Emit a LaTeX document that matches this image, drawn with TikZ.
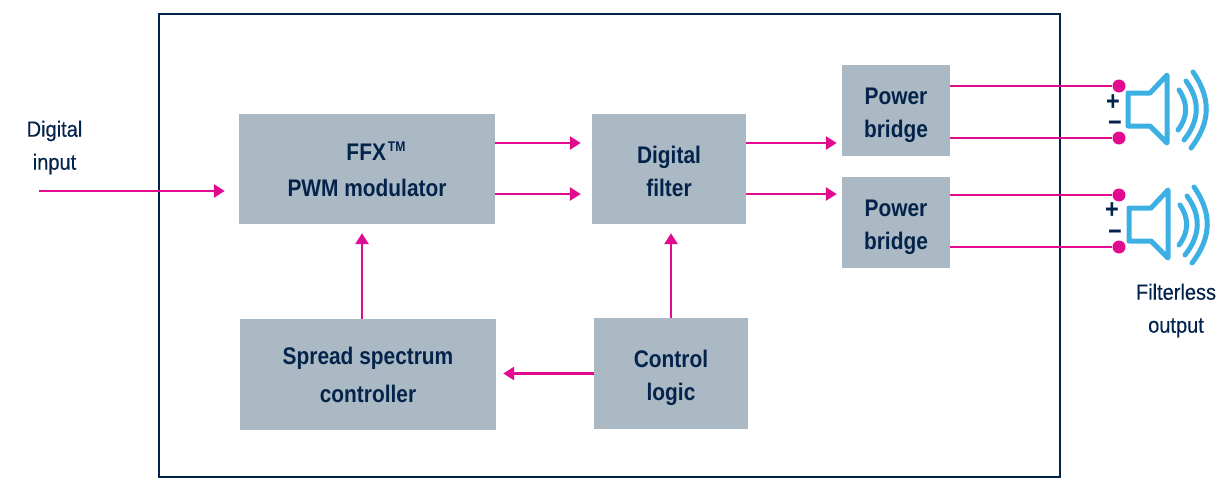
\documentclass[tikz,border=0pt]{standalone}
\usepackage{fontspec}
\setmainfont[FakeStretch=0.88,BoldFeatures={FakeStretch=0.87}]{Liberation Sans}
\newfontfamily\labelfont[FakeStretch=0.91,FakeBold=0.4]{Liberation Sans}
\usetikzlibrary{arrows.meta}
\definecolor{navy}{RGB}{3, 35, 75}
\definecolor{sig}{RGB}{226, 10, 142}
\definecolor{boxc}{RGB}{170, 185, 195}
\definecolor{spk}{RGB}{60, 176, 226}
\newcommand{\topgap}[1]{\rule{0pt}{#1}}
\tikzset{
  blockbox/.style={rectangle, fill=boxc, inner sep=0pt, align=center, text=navy, font=\fontsize{24}{33}\selectfont\bfseries},
  outlabel/.style={inner sep=0pt, align=center, text=navy, font=\labelfont\fontsize{22}{33}\selectfont},
  signs/.style={inner sep=0pt, text=navy, text height=8pt, text depth=0pt, font=\fontsize{27}{27}\selectfont\bfseries},
  dot/.style={circle, minimum size=13pt, inner sep=0pt, fill=sig},
  wire/.style={line width=2.7pt, color=sig},
  arr/.style={wire, -{Triangle[length=11pt, width=13pt]}},
  cone/.style={line width=5pt, color=spk, line cap=round, line join=round},
}
\begin{document}
\begin{tikzpicture}
\useasboundingbox (0pt, 0pt) rectangle (1223pt, -487pt);
\node (frame) [rectangle, minimum width=901pt, minimum height=463pt, line width=2pt, draw=navy] at (609.5pt, -245.5pt) {};
\node (pwm) [blockbox, minimum width=256pt, minimum height=110pt] at (367pt, -169pt) {\hspace*{18pt}FFX\hspace{2pt}\raisebox{9pt}{\fontsize{14}{14}\selectfont TM}\\[3pt]PWM modulator};
\node (filter) [blockbox, minimum width=154pt, minimum height=110pt] at (669pt, -169pt) {\topgap{22pt}Digital\\filter};
\node (spread) [blockbox, minimum width=256pt, minimum height=111pt] at (368pt, -374.5pt) {Spread spectrum\\[5pt]controller};
\node (control) [blockbox, minimum width=154pt, minimum height=111pt] at (671pt, -373.5pt) {\topgap{26pt}Control\\logic};
\node (bridge1) [blockbox, minimum width=108pt, minimum height=91pt] at (896pt, -110.5pt) {\topgap{26pt}Power\\bridge};
\node (bridge2) [blockbox, minimum width=108pt, minimum height=91pt] at (896pt, -222.5pt) {\topgap{26pt}Power\\bridge};
\node (input) [outlabel] at (54.5pt, -147.5pt) {Digital\\input};
\node (output) [outlabel] at (1176pt, -310.5pt) {Filterless\\output};
\node (dot1) [dot] at (1119pt, -86pt) {};
\node (dot2) [dot] at (1119pt, -138pt) {};
\node (dot3) [dot] at (1119pt, -195pt) {};
\node (dot4) [dot] at (1119pt, -247pt) {};
\node (plus1) [signs] at (1113pt, -106pt) {+};
\node (minus1) [signs] at (1115pt, -127pt) {\textminus};
\node (plus2) [signs] at (1112pt, -214pt) {+};
\node (minus2) [signs] at (1115pt, -236pt) {\textminus};
\coordinate (start) at (39pt, -191pt);
\draw [arr, shorten >=14pt] (start) to (start -| pwm.west);
\draw [arr, shorten >=11pt] ([yshift=26pt]pwm.east) to ([yshift=26pt]filter.west);
\draw [arr, shorten >=11pt] ([yshift=-25pt]pwm.east) to ([yshift=-25pt]filter.west);
\draw [arr, shorten >=5pt] ([yshift=26pt]filter.east) to ([yshift=26pt]filter.east -| bridge1.west);
\draw [arr, shorten >=5pt] ([yshift=-25pt]filter.east) to ([yshift=-25pt]filter.east -| bridge2.west);
\draw [arr, shorten >=9pt] ([xshift=-6pt]spread.north) to ([xshift=-5pt]pwm.south);
\draw [arr, shorten >=9pt] (control.north) to (control.north |- filter.south);
\draw [arr, shorten >=7pt] (control.west) to (control.west -| spread.east);
\draw [wire] (dot1 -| bridge1.east) to (dot1);
\draw [wire] (dot2 -| bridge1.east) to (dot2);
\draw [wire] (dot3 -| bridge2.east) to (dot3);
\draw [wire] (dot4 -| bridge2.east) to (dot4);
% speakers
\foreach \dy/\dx in {0/0, -115/1} {
  \begin{scope}[xshift=\dx pt, yshift=\dy pt]
  \draw [cone] (1128pt, -93pt) -- (1150pt, -93pt) -- (1167pt, -75pt) -- (1167pt, -143pt) -- (1150pt, -126pt) -- (1128pt, -126pt) -- cycle;
  \draw [cone] (1179pt, -90pt) .. controls (1188pt, -103pt) and (1188pt, -117pt) .. (1178pt, -130pt);
  \draw [cone] (1186pt, -81pt) .. controls (1200pt, -100pt) and (1200pt, -120pt) .. (1184pt, -140pt);
  \draw [cone] (1193pt, -72pt) .. controls (1211pt, -98pt) and (1211pt, -122pt) .. (1191pt, -148pt);
  \end{scope}
}
\end{tikzpicture}
\end{document}
